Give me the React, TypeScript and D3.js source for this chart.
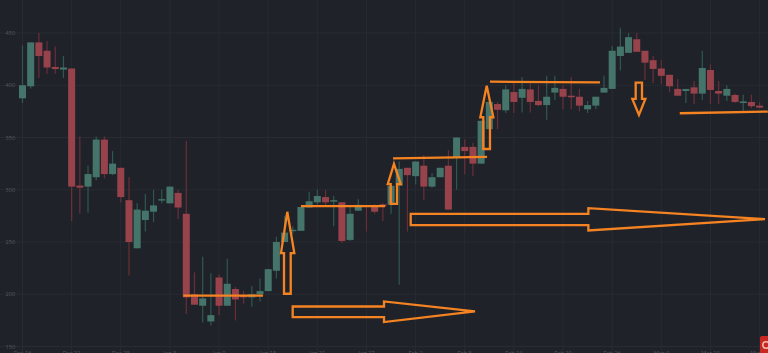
import React from "react";
import * as d3 from "d3";

const opens = [387.5,399,441,433,417.5,415,416,304,303,312,348,315,321,290,244,271,279,290,287,297,277,200,189,174,216,189,205,199,197,200,203,222.5,250,260.7,260.7,283,288,293,289,288,252,280,285,285,286,285.6,304,321,313,323,303,312,323,331,341,341,325,358,382,376,393.5,388,396,385,381,393,396.5,390,389,377,380.5,393,396.5,428,431,444,433,424,416,410,396.5,394.5,398,392,414.6,394.5,390,390.7,383,384,380.5];
const highs = [438,441,450,442,437,428,416,351,323,351,351,337,321,312,287,296,300,300,303,300,347,221,236,220,219,234,207,203,208,215,224,255,275,265,283.5,298,300,300,294,288,285,291,285,286,287,303.7,327,321,327,333,316,321,338,350,348,345,366,390,384,400,402,408,402,400,409,409,400,408,396.5,385,389,409,437.5,455,450,450,433,428,424,410,406,396.5,404,433,420,404,400,392,391,391,384];
const lows = [383,397,407,411,411,407,270,277,278,309,311,314,288,218,244,260,269,287,287,272,181,190,173,170,180,189,175,191,188,193,203,215,250,258,260.7,283,286,285,265,249,251,280,260,277,270,277,209,260,305,290,302,312,281,300,315,313,325,358,358,373.5,373.5,374,374,380,367,386,377,377,375,373.5,377,393,396.5,414,431,432,405,402,401,393.6,390,383,382,386,382,382,385,383,375,378,378];
const closes = [400,441,428,417,415.5,417,303,302,315,348,315,325,293,250,281,280,285,291,303,283,197,190,196,180,189,210,195,197,200,203,224,250,259,261.7,283.5,289,294,288,290,251,277,285.5,284,279,284,303.7,320,314,327,303,312,321,281,350,337,325,366,384,376.5,396,384,396.5,384,381,389,397.5,389,388.5,380.5,381,389,397.5,433,437,446,432,421.6,415.6,409,399,390,396.5,392,416.5,395.5,392,396.5,384,384.5,380,378.6];

const priceTicks = [150, 200, 250, 300, 350, 400, 450];
const dateLabels = ["Dec 16","Dec 22","Dec 28","Jan 3","Jan 9","Jan 15","Jan 21","Jan 27","Feb 2","Feb 8","Feb 14","Feb 20","Feb 26","Mar 4","Mar 10","Mar 16"];
const dateStep = 6;

// Hand-drawn annotations in [candle index, price]
const trendLines: [number, number][][] = [
  [[19.63,198.6],[29.37,198.6]],
  [[34.0,284.3],[44.26,284.3]],
  [[45.24,330],[56.72,331.5]],
  [[57.08,403.4],[70.51,402.8]],
  [[80.25,373.2],[91.0,374.8]],
];
const arrows: [number, number][][] = [
  [[32.33,278.9],[33.19,239.4],[32.75,239.4],[32.75,200.5],[31.93,200.5],[31.93,239.4],[31.56,239.4]],
  [[45.36,324.8],[46.18,305.3],[45.73,305.3],[45.73,286.5],[44.96,286.5],[44.96,305.3],[44.6,305.3]],
  [[56.68,399.6],[57.49,369.4],[57.08,369.4],[57.08,339],[56.26,339],[56.26,369.4],[55.9,369.4]],
  [[74.87,402.5],[75.64,402.5],[75.64,386.9],[76.05,386.9],[75.27,371.6],[74.46,386.9],[74.87,386.9]],
  [[32.99,188.3],[44.14,188.3],[44.14,193.1],[55.25,183.6],[44.14,173.4],[44.14,178.2],[32.99,178.2]],
  [[47.4,277],[69.09,277],[69.09,282.4],[90.66,271.9],[69.09,261],[69.09,266.2],[47.4,266.2]],
];

const W = 768;
const H = 353;
const BG = "#1f2229";
const GRID = "#282b30";
const AXIS_TEXT = "#56595d";
const UP_FILL = "#44756a";
const UP_WICK = "#2f5850";
const DOWN_FILL = "#98424c";
const DOWN_WICK = "#6a2e38";
const ORANGE = "#f58322";

export default function App() {
  const x = d3.scaleLinear().domain([0, 90]).range([22.5, 759.6]);
  const y = d3.scaleLinear().domain([150, 450]).range([346.5, 33]);
  const bodyW = 7;
  const poly = d3.line<[number, number]>().x((d) => x(d[0])).y((d) => y(d[1])).curve(d3.curveLinearClosed);
  const seg = d3.line<[number, number]>().x((d) => x(d[0])).y((d) => y(d[1]));

  return (
    <svg
      width={W}
      height={H}
      viewBox={`0 0 ${W} ${H}`}
      style={{ position: "absolute", left: 0, top: 0, display: "block", fontFamily: "'Open Sans', sans-serif" }}
    >
      <defs>
        <filter id="soft" x="-5%" y="-5%" width="110%" height="110%">
          <feGaussianBlur stdDeviation="0.3" />
        </filter>
      </defs>
      <rect width={W} height={H} fill={BG} />
      <g>
        {priceTicks.map((p) => (
          <line key={p} x1={0} x2={W} y1={y(p)} y2={y(p)} stroke={GRID} strokeWidth={1} />
        ))}
        {dateLabels.map((d, i) => (
          <line key={d} x1={x(i * dateStep)} x2={x(i * dateStep)} y1={0} y2={H} stroke={GRID} strokeWidth={1} />
        ))}
      </g>
      <g filter="url(#soft)">
        {opens.map((o, i) => {
          const c = closes[i];
          const up = c >= o;
          const top = y(Math.max(o, c));
          const bottom = y(Math.min(o, c));
          return (
            <g key={i}>
              <line x1={x(i)} x2={x(i)} y1={y(highs[i])} y2={y(lows[i])} stroke={up ? UP_WICK : DOWN_WICK} strokeWidth={1.2} />
              <rect
                x={x(i) - bodyW / 2}
                y={top}
                width={bodyW}
                height={Math.max(bottom - top, 1.4)}
                fill={up ? UP_FILL : DOWN_FILL}
              />
            </g>
          );
        })}
      </g>
      <g fontSize={5.6} fill={AXIS_TEXT}>
        {priceTicks.map((p) => (
          <text key={p} x={5.5} y={y(p) + 2}>{p}</text>
        ))}
        {dateLabels.map((d, i) => (
          <text key={d} x={x(i * dateStep)} y={355.4} textAnchor="middle">{d}</text>
        ))}
      </g>
      <g fill="none" stroke={ORANGE} strokeLinejoin="miter" filter="url(#soft)">
        {trendLines.map((l, i) => (
          <path key={i} d={seg(l) || ""} strokeWidth={2.3} />
        ))}
        {arrows.map((a, i) => (
          <path key={i} d={poly(a) || ""} strokeWidth={2.3} />
        ))}
      </g>
      <g>
        <rect x={760} y={336} width={14} height={20} rx={2} fill="#c8281f" />
        <circle cx={766} cy={345} r={3.2} fill="none" stroke="#f0b8a8" strokeWidth={1.6} />
      </g>
    </svg>
  );
}
